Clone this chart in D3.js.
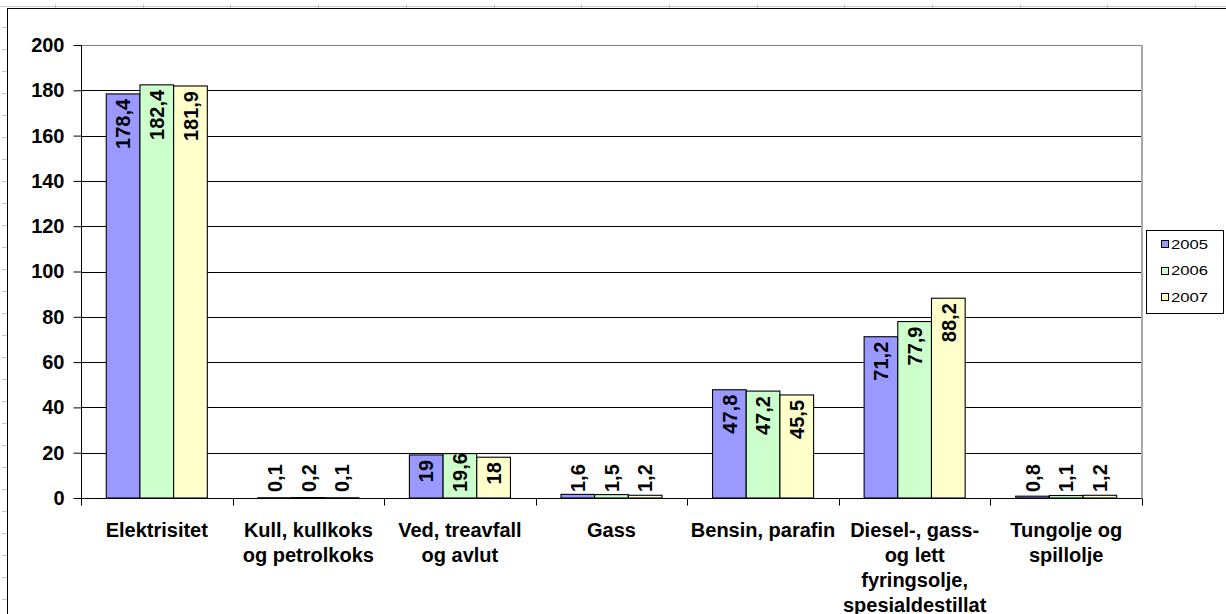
<!DOCTYPE html>
<html>
<head>
<meta charset="utf-8">
<script src="https://cdn.jsdelivr.net/npm/d3@7"></script>
<style>
  html, body { margin: 0; padding: 0; background: #fff; }
  svg { display: block; }
  text { font-family: Arial, "Liberation Sans", sans-serif; }
</style>
</head>
<body>
<svg id="chart" width="1226" height="614"></svg>
<script>
// ---- data ----
const categories = [
  "Elektrisitet",
  "Kull, kullkoks og petrolkoks",
  "Ved, treavfall og avlut",
  "Gass",
  "Bensin, parafin",
  "Diesel-, gass- og lett fyringsolje, spesialdestillat",
  "Tungolje og spillolje"
];
const categoryLines = [
  ["Elektrisitet"],
  ["Kull, kullkoks", "og petrolkoks"],
  ["Ved, treavfall", "og avlut"],
  ["Gass"],
  ["Bensin, parafin"],
  ["Diesel-, gass-", "og lett", "fyringsolje,", "spesialdestillat"],
  ["Tungolje og", "spillolje"]
];
const seriesNames = ["2005", "2006", "2007"];
const values2005 = [178.4, 0.1, 19, 1.6, 47.8, 71.2, 0.8];
const values2006 = [182.4, 0.2, 19.6, 1.5, 47.2, 77.9, 1.1];
const values2007 = [181.9, 0.1, 18, 1.2, 45.5, 88.2, 1.2];
const yTicks = [0, 20, 40, 60, 80, 100, 120, 140, 160, 180, 200];
const colors = ["#9999FF", "#CCFFCC", "#FFFFCC"];

const series = [values2005, values2006, values2007];
const fmt = v => String(v).replace(".", ",");
const FONT = "20px";

const svg = d3.select("#chart");

// ---- spreadsheet background hints ----
const bg = svg.append("g");
bg.append("line").attr("x1", 0).attr("x2", 1226).attr("y1", 6.5).attr("y2", 6.5)
  .attr("stroke", "#c8c8c8").attr("stroke-width", 1);
d3.range(55, 1226, 87.7).forEach(x => {
  bg.append("line").attr("x1", Math.round(x) + 0.5).attr("x2", Math.round(x) + 0.5)
    .attr("y1", 4).attr("y2", 8).attr("stroke", "#c8c8c8");
});
d3.range(26.7, 614, 22).forEach(y => {
  bg.append("line").attr("x1", 2).attr("x2", 7).attr("y1", Math.round(y) + 0.5)
    .attr("y2", Math.round(y) + 0.5).attr("stroke", "#c8c8c8");
});

// chart area border
svg.append("rect").attr("x", 7.5).attr("y", 8.5).attr("width", 1230).attr("height", 620)
  .attr("fill", "#fff").attr("stroke", "#000").attr("stroke-width", 1);

// ---- scales ----
const plot = { left: 81, right: 1142, top: 45, bottom: 498 };
const x = d3.scaleBand().domain(categories).range([plot.left, plot.right]).padding(0);
const y = d3.scaleLinear().domain([0, 200]).range([plot.bottom, plot.top]);
const bw = x.bandwidth() / 4.5;
const gap = (x.bandwidth() - 3 * bw) / 2;
const xs = d3.scaleBand().domain(seriesNames).range([gap, gap + 3 * bw]).padding(0);

// gridlines
const grid = svg.append("g");
yTicks.filter(t => t > 0 && t < 200).forEach(t => {
  grid.append("line").attr("x1", plot.left).attr("x2", plot.right)
    .attr("y1", Math.round(y(t)) + 0.5).attr("y2", Math.round(y(t)) + 0.5)
    .attr("stroke", "#000").attr("stroke-width", 1);
});
// plot area border (top & right, gray)
grid.append("line").attr("x1", plot.left).attr("x2", plot.right)
  .attr("y1", plot.top + 0.5).attr("y2", plot.top + 0.5).attr("stroke", "#808080").attr("stroke-width", 1.2);
grid.append("line").attr("x1", plot.right).attr("x2", plot.right)
  .attr("y1", plot.top).attr("y2", plot.bottom).attr("stroke", "#a8a8a8").attr("stroke-width", 2);

// bars
const barsG = svg.append("g");
categories.forEach((c, ci) => {
  seriesNames.forEach((s, si) => {
    const v = series[si][ci];
    barsG.append("rect")
      .attr("x", x(c) + xs(s))
      .attr("y", y(v))
      .attr("width", xs.bandwidth())
      .attr("height", Math.max(0, y(0) - y(v)))
      .attr("fill", colors[si])
      .attr("stroke", "#000")
      .attr("stroke-width", 1.1);
  });
});

// y axis
const yAxis = svg.append("g").attr("transform", `translate(${plot.left + 0.5},0)`)
  .call(d3.axisLeft(y).tickValues(yTicks).tickSize(8).tickPadding(9).tickFormat(d => d));
yAxis.select(".domain").attr("d", `M0,${plot.top}V${plot.bottom + 7}`).attr("stroke", "#000");
yAxis.selectAll(".tick line").attr("stroke", "#000");
yAxis.selectAll(".tick text").attr("font-size", FONT).attr("font-weight", "bold")
  .attr("fill", "#000").attr("font-family", "Arial, 'Liberation Sans', sans-serif");

// x axis
const xAxis = svg.append("g").attr("transform", `translate(0,${plot.bottom + 0.5})`);
xAxis.append("line").attr("x1", plot.left).attr("x2", plot.right).attr("y1", 0).attr("y2", 0)
  .attr("stroke", "#000");
const bounds = categories.map(c => x(c)).concat([plot.right]);
bounds.forEach(b => {
  xAxis.append("line").attr("x1", Math.round(b) + 0.5).attr("x2", Math.round(b) + 0.5)
    .attr("y1", 0).attr("y2", 7).attr("stroke", "#000");
});
categories.forEach((c, ci) => {
  const t = xAxis.append("text")
    .attr("x", x(c) + x.bandwidth() / 2)
    .attr("y", 536.5 - plot.bottom)
    .attr("text-anchor", "middle")
    .attr("font-size", FONT).attr("font-weight", "bold").attr("fill", "#000");
  categoryLines[ci].forEach((ln, li) => {
    t.append("tspan").attr("x", x(c) + x.bandwidth() / 2)
      .attr("dy", li === 0 ? 0 : 25).text(ln);
  });
});

// data labels
const labG = svg.append("g");
categories.forEach((c, ci) => {
  seriesNames.forEach((s, si) => {
    const v = series[si][ci];
    const cx = x(c) + xs(s) + xs.bandwidth() / 2;
    const t = labG.append("text")
      .attr("font-size", FONT).attr("font-weight", "bold").attr("fill", "#000")
      .attr("text-anchor", "end").attr("dy", "0.36em")
      .text(fmt(v));
    const len = t.node().getComputedTextLength();
    let endY = y(v) + 5;
    if (endY + len > plot.bottom - 6) endY = plot.bottom - 6 - len;
    t.attr("transform", `translate(${cx},${endY}) rotate(-90)`);
  });
});

// legend
const lg = svg.append("g");
lg.append("rect").attr("x", 1146.5).attr("y", 230.5).attr("width", 77).attr("height", 83)
  .attr("fill", "#fff").attr("stroke", "#000").attr("stroke-width", 1);
seriesNames.forEach((s, i) => {
  const cy = 244 + i * 26.7;
  lg.append("rect").attr("x", 1161.5).attr("y", Math.round(cy - 4) + 0.5).attr("width", 7).attr("height", 7)
    .attr("fill", colors[i]).attr("stroke", "#000").attr("stroke-width", 1);
  lg.append("text").attr("x", 1171).attr("y", cy).attr("dy", "0.36em")
    .attr("font-size", "13px").attr("fill", "#000")
    .attr("textLength", 37).attr("lengthAdjust", "spacingAndGlyphs")
    .text(s);
});
</script>
</body>
</html>
